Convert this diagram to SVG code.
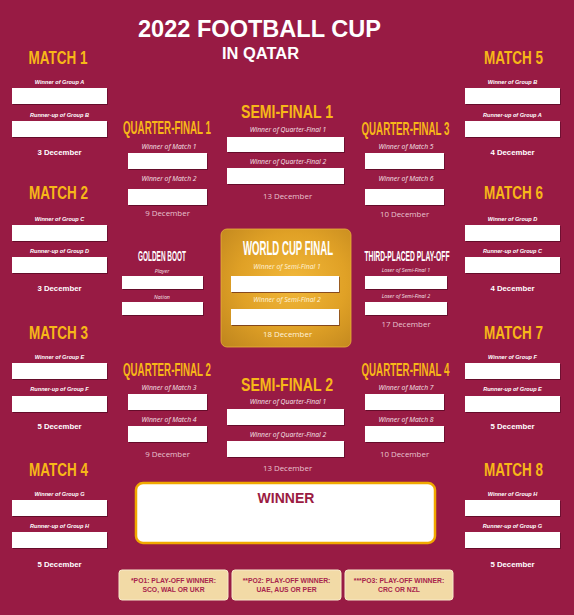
<svg xmlns="http://www.w3.org/2000/svg" width="574" height="615" viewBox="0 0 574 615">
<defs>
<radialGradient id="gold" cx="0.55" cy="0.45" r="0.75">
<stop offset="0" stop-color="#F2B83A"/>
<stop offset="0.55" stop-color="#E0A126"/>
<stop offset="1" stop-color="#C0861E"/>
</radialGradient>
<filter id="sh" x="-10%" y="-20%" width="130%" height="160%">
<feDropShadow dx="0.8" dy="1" stdDeviation="0.6" flood-color="#3a0616" flood-opacity="0.55"/>
</filter>
</defs>
<style>
.h{font-family:"Liberation Sans","DejaVu Sans",sans-serif;font-weight:bold;fill:#F7B718;text-anchor:middle;font-size:18px}
.hw{font-family:"Liberation Sans","DejaVu Sans",sans-serif;font-weight:bold;fill:#FFFFFF;text-anchor:middle}
.gl{font-family:"Liberation Sans","DejaVu Sans",sans-serif;font-weight:bold;font-style:italic;fill:#FFFFFF;text-anchor:middle;font-size:5.6px}
.ql{font-family:"Open Sans","DejaVu Sans",sans-serif;font-style:italic;fill:#F6E4EA;text-anchor:middle;font-size:6.8px}
.sl{font-family:"Open Sans","DejaVu Sans",sans-serif;font-style:italic;fill:#F6E4EA;text-anchor:middle;font-size:5.3px}
.d{font-family:"Liberation Sans","DejaVu Sans",sans-serif;font-weight:bold;fill:#FFFFFF;text-anchor:middle;font-size:7.8px}
.dq{font-family:"Open Sans","DejaVu Sans",sans-serif;fill:#E8C3CF;text-anchor:middle;font-size:7.9px}
.box{fill:#FFFFFF;filter:url(#sh)}
.fn{fill:#F2DAA6;stroke:#F8EACB;stroke-width:1}
.ft{font-family:"Liberation Sans","DejaVu Sans",sans-serif;font-weight:bold;fill:#A8254C;text-anchor:middle;font-size:6.8px}
</style>
<rect x="0" y="0" width="574" height="615" fill="#981B44"/>

<g id="title">
<text class="hw" x="259.5" y="37" font-size="23" textLength="243" lengthAdjust="spacingAndGlyphs">2022 FOOTBALL CUP</text>
<text class="hw" x="260.5" y="59" font-size="16" textLength="77" lengthAdjust="spacingAndGlyphs">IN QATAR</text>
</g>

<!-- Left column -->
<g id="match1">
<text class="h" x="58" y="64" textLength="59" lengthAdjust="spacingAndGlyphs">MATCH 1</text>
<text class="gl" x="59.5" y="84">Winner of Group A</text>
<rect class="box" x="12" y="88" width="95" height="16"/>
<text class="gl" x="59.5" y="117">Runner-up of Group B</text>
<rect class="box" x="12" y="121" width="95" height="16"/>
<text class="d" x="59.5" y="155">3 December</text>
</g>
<g id="match2">
<text class="h" x="58.5" y="199" textLength="59" lengthAdjust="spacingAndGlyphs">MATCH 2</text>
<text class="gl" x="59.5" y="221">Winner of Group C</text>
<rect class="box" x="12" y="225" width="95" height="16"/>
<text class="gl" x="59.5" y="253">Runner-up of Group D</text>
<rect class="box" x="12" y="257" width="95" height="16"/>
<text class="d" x="59.5" y="291">3 December</text>
</g>
<g id="match3">
<text class="h" x="58.5" y="339" textLength="59" lengthAdjust="spacingAndGlyphs">MATCH 3</text>
<text class="gl" x="59.5" y="359">Winner of Group E</text>
<rect class="box" x="12" y="363" width="95" height="16"/>
<text class="gl" x="59.5" y="391">Runner-up of Group F</text>
<rect class="box" x="12" y="396" width="95" height="16"/>
<text class="d" x="59.5" y="429">5 December</text>
</g>
<g id="match4">
<text class="h" x="58.5" y="476" textLength="59" lengthAdjust="spacingAndGlyphs">MATCH 4</text>
<text class="gl" x="59.5" y="496">Winner of Group G</text>
<rect class="box" x="12" y="500" width="95" height="16"/>
<text class="gl" x="59.5" y="528">Runner-up of Group H</text>
<rect class="box" x="12" y="532" width="95" height="16"/>
<text class="d" x="59.5" y="567">5 December</text>
</g>

<!-- Right column -->
<g id="match5">
<text class="h" x="513.5" y="64" textLength="59" lengthAdjust="spacingAndGlyphs">MATCH 5</text>
<text class="gl" x="512.5" y="84">Winner of Group B</text>
<rect class="box" x="465" y="88" width="95" height="16"/>
<text class="gl" x="512.5" y="117">Runner-up of Group A</text>
<rect class="box" x="465" y="121" width="95" height="16"/>
<text class="d" x="512.5" y="155">4 December</text>
</g>
<g id="match6">
<text class="h" x="513.5" y="199" textLength="59" lengthAdjust="spacingAndGlyphs">MATCH 6</text>
<text class="gl" x="512.5" y="221">Winner of Group D</text>
<rect class="box" x="465" y="225" width="95" height="16"/>
<text class="gl" x="512.5" y="253">Runner-up of Group C</text>
<rect class="box" x="465" y="257" width="95" height="16"/>
<text class="d" x="512.5" y="291">4 December</text>
</g>
<g id="match7">
<text class="h" x="513.5" y="339" textLength="59" lengthAdjust="spacingAndGlyphs">MATCH 7</text>
<text class="gl" x="512.5" y="359">Winner of Group F</text>
<rect class="box" x="465" y="363" width="95" height="16"/>
<text class="gl" x="512.5" y="391">Runner-up of Group E</text>
<rect class="box" x="465" y="396" width="95" height="16"/>
<text class="d" x="512.5" y="429">5 December</text>
</g>
<g id="match8">
<text class="h" x="513.5" y="476" textLength="59" lengthAdjust="spacingAndGlyphs">MATCH 8</text>
<text class="gl" x="512.5" y="496">Winner of Group H</text>
<rect class="box" x="465" y="500" width="95" height="16"/>
<text class="gl" x="512.5" y="528">Runner-up of Group G</text>
<rect class="box" x="465" y="532" width="95" height="16"/>
<text class="d" x="512.5" y="567">5 December</text>
</g>

<!-- Quarter-finals -->
<g id="qf1">
<text class="h" x="167" y="134" textLength="88" lengthAdjust="spacingAndGlyphs">QUARTER-FINAL 1</text>
<text class="ql" x="169" y="149">Winner of Match 1</text>
<rect class="box" x="128" y="153" width="79" height="16"/>
<text class="ql" x="169" y="181">Winner of Match 2</text>
<rect class="box" x="128" y="189" width="79" height="16"/>
<text class="dq" x="167.5" y="216">9 December</text>
</g>
<g id="qf2">
<text class="h" x="167" y="376" textLength="88" lengthAdjust="spacingAndGlyphs">QUARTER-FINAL 2</text>
<text class="ql" x="169" y="390">Winner of Match 3</text>
<rect class="box" x="128" y="394" width="79" height="16"/>
<text class="ql" x="169" y="422">Winner of Match 4</text>
<rect class="box" x="128" y="426" width="79" height="16"/>
<text class="dq" x="167.5" y="457">9 December</text>
</g>
<g id="qf3">
<text class="h" x="405.5" y="135" textLength="88" lengthAdjust="spacingAndGlyphs">QUARTER-FINAL 3</text>
<text class="ql" x="406" y="149">Winner of Match 5</text>
<rect class="box" x="365" y="153" width="79" height="16"/>
<text class="ql" x="406" y="181">Winner of Match 6</text>
<rect class="box" x="365" y="189" width="79" height="16"/>
<text class="dq" x="404.5" y="217">10 December</text>
</g>
<g id="qf4">
<text class="h" x="405.5" y="376" textLength="88" lengthAdjust="spacingAndGlyphs">QUARTER-FINAL 4</text>
<text class="ql" x="406" y="390">Winner of Match 7</text>
<rect class="box" x="365" y="394" width="79" height="16"/>
<text class="ql" x="406" y="422">Winner of Match 8</text>
<rect class="box" x="365" y="426" width="79" height="16"/>
<text class="dq" x="404.5" y="457">10 December</text>
</g>

<!-- Semi-finals -->
<g id="sf1">
<text class="h" x="287" y="118" font-size="19.5" textLength="92" lengthAdjust="spacingAndGlyphs">SEMI-FINAL 1</text>
<text class="ql" x="288" y="132">Winner of Quarter-Final 1</text>
<rect class="box" x="227" y="137" width="117" height="15"/>
<text class="ql" x="288" y="164">Winner of Quarter-Final 2</text>
<rect class="box" x="227" y="168" width="117" height="16"/>
<text class="dq" x="287.5" y="199">13 December</text>
</g>
<g id="sf2">
<text class="h" x="287" y="391" font-size="19.5" textLength="92" lengthAdjust="spacingAndGlyphs">SEMI-FINAL 2</text>
<text class="ql" x="288" y="404">Winner of Quarter-Final 1</text>
<rect class="box" x="227" y="409" width="117" height="16"/>
<text class="ql" x="288" y="437">Winner of Quarter-Final 2</text>
<rect class="box" x="227" y="441" width="117" height="16"/>
<text class="dq" x="287.5" y="471">13 December</text>
</g>

<!-- Final -->
<g id="final">
<rect x="221" y="229" width="130" height="118" rx="6" fill="url(#gold)" stroke="#E9B03A" stroke-width="0.8"/>
<text class="hw" x="288" y="255" font-size="19.5" textLength="90" lengthAdjust="spacingAndGlyphs">WORLD CUP FINAL</text>
<text class="ql" x="287" y="269" fill="#FFF3DC" style="fill:#FFF3DC">Winner of Semi-Final 1</text>
<rect class="box" x="231" y="276" width="108" height="16"/>
<text class="ql" x="287" y="302" style="fill:#FFF3DC">Winner of Semi-Final 2</text>
<rect class="box" x="231" y="309" width="108" height="16"/>
<text class="dq" x="287.5" y="337" style="fill:#FFF3DC">18 December</text>
</g>

<g id="golden-boot">
<text class="hw" x="162" y="261" font-size="14" textLength="48" lengthAdjust="spacingAndGlyphs">GOLDEN BOOT</text>
<text class="sl" x="162" y="273">Player</text>
<rect class="box" x="122" y="276" width="81" height="13"/>
<text class="sl" x="162" y="299">Nation</text>
<rect class="box" x="122" y="302" width="81" height="13"/>
</g>

<g id="third-place">
<text class="hw" x="407" y="261" font-size="14" textLength="85" lengthAdjust="spacingAndGlyphs">THIRD-PLACED PLAY-OFF</text>
<text class="sl" x="406" y="272">Loser of Semi-Final 1</text>
<rect class="box" x="365" y="276" width="82" height="13"/>
<text class="sl" x="406" y="298">Loser of Semi-Final 2</text>
<rect class="box" x="365" y="302" width="82" height="13"/>
<text class="dq" x="406" y="327">17 December</text>
</g>

<g id="winner">
<rect x="136" y="483" width="299" height="60" rx="7" fill="#FFFFFF" stroke="#F0A800" stroke-width="2.5"/>
<text class="hw" x="286" y="503" font-size="14" style="fill:#9B1B42">WINNER</text>
</g>

<g id="note1">
<rect class="fn" x="119" y="570" width="109" height="30" rx="3"/>
<text class="ft" x="173.5" y="583">*PO1: PLAY-OFF WINNER:</text>
<text class="ft" x="173.5" y="592">SCO, WAL OR UKR</text>
</g>
<g id="note2">
<rect class="fn" x="232" y="570" width="109" height="30" rx="3"/>
<text class="ft" x="286.5" y="583">**PO2: PLAY-OFF WINNER:</text>
<text class="ft" x="286.5" y="592">UAE, AUS OR PER</text>
</g>
<g id="note3">
<rect class="fn" x="345" y="570" width="108" height="30" rx="3"/>
<text class="ft" x="399" y="583">***PO3: PLAY-OFF WINNER:</text>
<text class="ft" x="399" y="592">CRC OR NZL</text>
</g>
</svg>
